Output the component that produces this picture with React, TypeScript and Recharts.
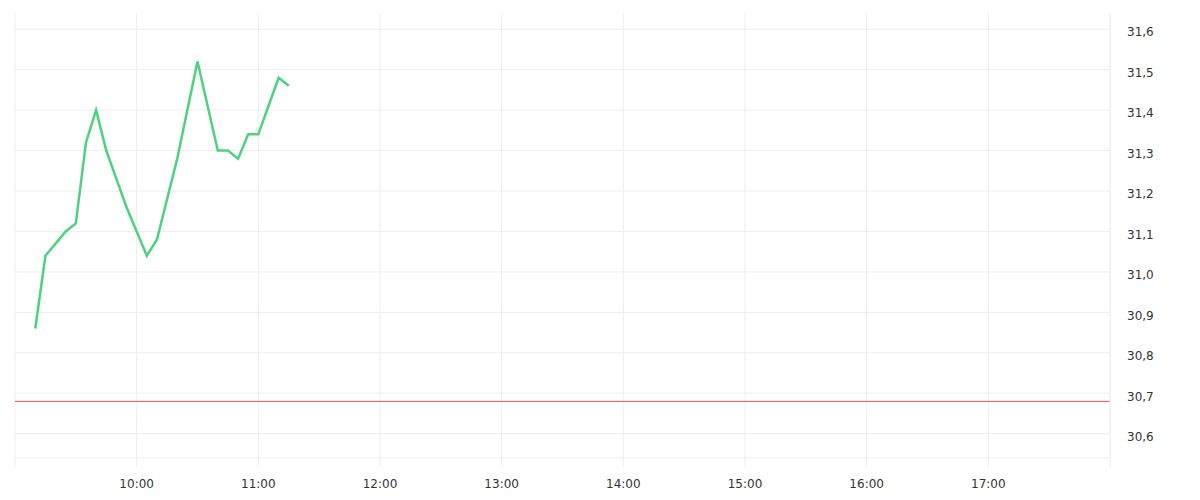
import React from 'react';
import {
  LineChart,
  Line,
  XAxis,
  YAxis,
  CartesianGrid,
  ReferenceLine,
} from 'recharts';

// 5-minute closes, morning session
const times = [
  '09:10', '09:15', '09:20', '09:25', '09:30', '09:35', '09:40', '09:45',
  '09:50', '09:55', '10:00', '10:05', '10:10', '10:15', '10:20', '10:25',
  '10:30', '10:35', '10:40', '10:45', '10:50', '10:55', '11:00', '11:05',
  '11:10', '11:15',
];
const prices = [
  30.86, 31.04, 31.07, 31.1, 31.12, 31.32, 31.4, 31.3,
  31.23, 31.16, 31.1, 31.04, 31.08, 31.18, 31.28, 31.4,
  31.52, 31.41, 31.3, 31.3, 31.28, 31.34, 31.34, 31.41,
  31.48, 31.46,
];
const prevClose = 30.68;

const hourTicks = ['09:00', '10:00', '11:00', '12:00', '13:00', '14:00', '15:00', '16:00', '17:00', '18:00'];
const priceTicks = [30.6, 30.7, 30.8, 30.9, 31.0, 31.1, 31.2, 31.3, 31.4, 31.5, 31.6];

const toMin = (t: string) => {
  const [h, m] = t.split(':').map(Number);
  return h * 60 + m;
};
const fromMin = (v: number) => {
  const h = Math.floor(v / 60);
  const m = v % 60;
  return `${h}:${m < 10 ? '0' + m : m}`;
};

const data = times.map((t, i) => ({ t: toMin(t), price: prices[i] }));
const xTicks = hourTicks.map(toMin);
const xMin = xTicks[0];
const xMax = xTicks[xTicks.length - 1];

const GRID = '#eeeeee';
const FONT = { fontSize: 12, fill: '#333', fontFamily: '"DejaVu Sans", sans-serif' };

export default function App() {
  return (
    <div style={{ position: 'absolute', left: 0, top: 0, width: 1200, height: 500, background: '#fff' }}>
      <LineChart
        width={1200}
        height={500}
        data={data}
        margin={{ top: 13, right: 0, left: 15, bottom: 0 }}
      >
        {/* vertical lines from the grid; horizontal ones per price tick below, so no top border */}
        <CartesianGrid stroke={GRID} horizontal={false} />
        {priceTicks.map((v) => (
          <ReferenceLine key={v} y={v} stroke={GRID} strokeWidth={1} />
        ))}
        <XAxis
          dataKey="t"
          type="number"
          domain={[xMin, xMax]}
          ticks={xTicks}
          tickFormatter={(v: number) => (v === xMin || v === xMax ? '' : fromMin(v))}
          height={42}
          axisLine={{ stroke: GRID }}
          tickLine={{ stroke: GRID }}
          tickSize={9}
          tickMargin={12}
          tick={FONT}
          interval={0}
        />
        <YAxis
          orientation="right"
          type="number"
          domain={[30.54, 31.64]}
          ticks={priceTicks}
          tickFormatter={(v: number) => v.toFixed(1).replace('.', ',')}
          width={90}
          axisLine={{ stroke: GRID }}
          tickLine={false}
          tickSize={0}
          tickMargin={17}
          tick={{ ...FONT, dy: 3 }}
          interval={0}
        />
        <ReferenceLine y={prevClose} stroke="#ef5350" strokeWidth={1} />
        <Line
          type="linear"
          dataKey="price"
          stroke="#4cd280"
          strokeWidth={2.5}
          dot={false}
          isAnimationActive={false}
        />
      </LineChart>
    </div>
  );
}
